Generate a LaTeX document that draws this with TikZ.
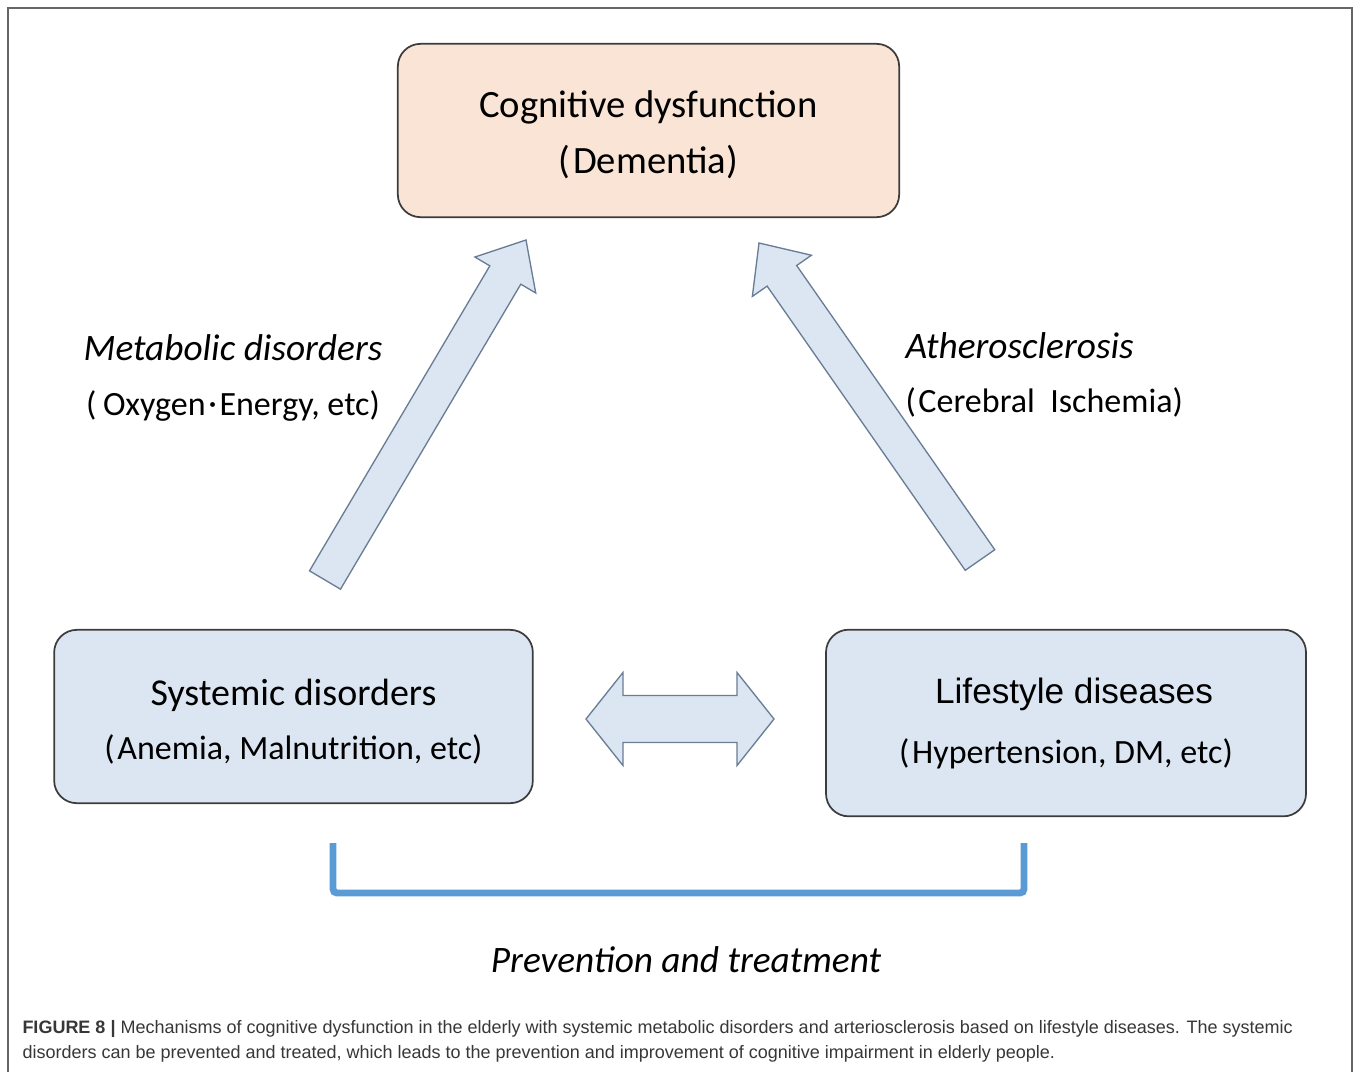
\documentclass[tikz,border=0pt]{standalone}
\usepackage{fontspec}
\setmainfont{Carlito}
\newfontfamily\arialfont{Liberation Sans}
\usetikzlibrary{calc}

\definecolor{peach}{RGB}{250,228,213}
\definecolor{paleblue}{RGB}{220,230,243}
\definecolor{boxline}{RGB}{60,60,60}
\definecolor{arrowline}{RGB}{105,125,148}
\definecolor{bracketblue}{RGB}{91,155,213}
\definecolor{captext}{RGB}{55,55,55}

\newcommand{\lp}{(\hspace{2pt}}
\newcommand{\mdot}{\hspace{2pt}\raisebox{1pt}{·}\hspace{2pt}}
\newcommand{\subline}{\fontsize{25.5}{40.5}\selectfont}

\tikzset{every picture/.style={line width=0.75pt}}
\tikzset{
  box/.style={draw=boxline, line width=1.3pt, rounded corners=17pt, inner sep=0pt, align=center},
  fatarrow/.style={draw=arrowline, fill=paleblue, line width=1pt, line join=miter},
  label/.style={font=\fontsize{28}{41}\selectfont, inner sep=0pt},
  bracket/.style={draw=bracketblue, line width=5.2pt, rounded corners=3pt},
  caption/.style={font=\arialfont\fontsize{13.5}{15}\selectfont, text=captext, anchor=west, inner sep=0pt},
  frame/.style={draw=black!60, line width=1.1pt}
}

% fat arrow: tail, tip, half shaft, half head, head length
\newcommand{\fatarrow}[5]{%
  \coordinate (fa-base) at ($(#2)!#5!(#1)$);
  \draw[fatarrow] ($(#1)!#3!90:(#2)$) -- ($(fa-base)!#3!90:(#2)$) -- ($(fa-base)!#4!90:(#2)$) -- (#2)
    -- ($(fa-base)!#4!-90:(#2)$) -- ($(fa-base)!#3!-90:(#2)$) -- ($(#1)!#3!-90:(#2)$) -- cycle;
}
% fat double arrow: tip, tip, half shaft, half head, head length
\newcommand{\fatdblarrow}[5]{%
  \coordinate (fa-a) at ($(#1)!#5!(#2)$);
  \coordinate (fa-b) at ($(#2)!#5!(#1)$);
  \draw[fatarrow] (#1) -- ($(fa-a)!#4!90:(#2)$) -- ($(fa-a)!#3!90:(#2)$) -- ($(fa-b)!#3!-90:(#1)$)
    -- ($(fa-b)!#4!-90:(#1)$) -- (#2) -- ($(fa-b)!#4!90:(#1)$) -- ($(fa-b)!#3!90:(#1)$)
    -- ($(fa-a)!#3!-90:(#2)$) -- ($(fa-a)!#4!-90:(#2)$) -- cycle;
}

\begin{document}
\begin{tikzpicture}[x=0.75pt,y=0.75pt,yscale=-1,xscale=1]
	\useasboundingbox (0,0) rectangle (1358,1072);

	%Shape: Frame
	\draw[frame] (8,1072) -- (8,8) -- (1352,8) -- (1352,1072);

	%Shape: Rounded Rectangle [top]
	\node[box, fill=peach, minimum width=376pt, minimum height=130pt, font=\fontsize{29}{42}\selectfont] (cog) at (648.5,130.5)
		{\rule{0pt}{27pt}Cognitive dysfunction\\\lp Dementia)};
	%Shape: Rounded Rectangle [left]
	\node[box, fill=paleblue, minimum width=359pt, minimum height=130pt, font=\fontsize{28.5}{40.5}\selectfont] (sys) at (293.5,716.5)
		{\rule{0pt}{27pt}Systemic disorders\\{\subline\lp Anemia, Malnutrition, etc)}};
	%Shape: Rounded Rectangle [right]
	\node[box, fill=paleblue, minimum width=360pt, minimum height=140pt, font=\fontsize{28.5}{30}\selectfont] (life) at (1066,723)
		{\hspace*{12pt}{\arialfont\fontsize{26.4}{30}\selectfont Lifestyle diseases}\\[15pt]{\subline\lp Hypertension,\ DM, etc)}};

	%Fat Arrows
	\coordinate (mtail) at (325,580);
	\coordinate (mtip) at (526,240);
	\coordinate (atail) at (980,560);
	\coordinate (atip) at (759,243);
	\coordinate (dleft) at (586,719);
	\coordinate (dright) at (774,719);
	\fatarrow{mtail}{mtip}{13.5pt}{26.5pt}{30.5pt}
	\fatarrow{atail}{atip}{13.5pt}{27pt}{30pt}
	\fatdblarrow{dleft}{dright}{17.6pt}{34.9pt}{27.75pt}

	%Bracket
	\coordinate (bl) at (333,843);
	\coordinate (br) at (1024,843);
	\draw[bracket] (bl) -- ++(0,50) -| (br);

	% Text Node
	\node[label, align=center] (meta) at (233,378) {\textit{Metabolic disorders}\\{\subline(\hspace{5pt}Oxygen\mdot Energy, etc)}};
	% Text Node
	\node[label, align=left, anchor=west] (athero) at (905,375) {\textit{Atherosclerosis}\\{\subline\lp Cerebral\ \ Ischemia)}};
	% Text Node
	\node[label] (prev) at (686,960) {\textit{Prevention and treatment}};

	% Text Node
	\node[caption] (cap1) at (22,1029) {\textbf{FIGURE 8 |} Mechanisms of cognitive dysfunction in the elderly with systemic metabolic disorders and arteriosclerosis based on lifestyle diseases. The systemic};
	% Text Node
	\node[caption] (cap2) at (22,1054) {disorders can be prevented and treated, which leads to the prevention and improvement of cognitive impairment in elderly people.};

\end{tikzpicture}
\end{document}
